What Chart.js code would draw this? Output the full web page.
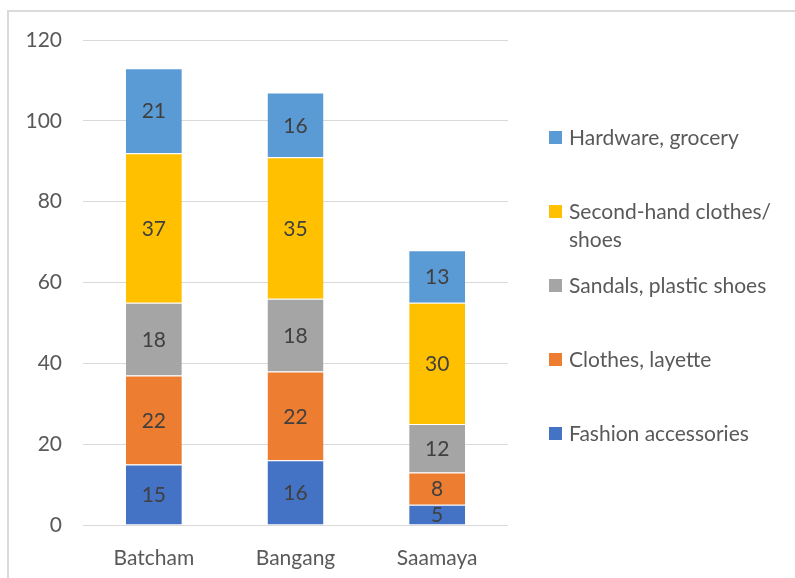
<!DOCTYPE html>
<html>
<head>
<meta charset="utf-8">
<script src="https://cdn.jsdelivr.net/npm/chart.js@4"></script>
<style>
    body { margin: 0; background: #fff; font-family: Lato, "Open Sans", sans-serif; }
    #wrap { position: relative; width: 795px; height: 578px; overflow: hidden; }
    #frame { position: absolute; left: 7px; top: 10px; width: 900px; height: 700px; border: 2px solid #DADADA; box-sizing: border-box; }
    #chart { position: absolute; left: 0; top: 0; }
    #legend { position: absolute; left: 549px; top: 123px; width: 245px; }
    .legend-item { height: 74px; display: flex; align-items: flex-start; }
    .legend-box { width: 13px; height: 13px; margin-top: 8px; margin-right: 7px; flex: none; }
    .legend-text { font-size: 21px; line-height: 28px; color: #595959; white-space: pre; }
</style>
</head>
<body>
<div id="wrap">
    <div id="frame"></div>
    <canvas id="chart" width="795" height="578"></canvas>
    <div id="legend"></div>
</div>
<script>
const categories = ['Batcham', 'Bangang', 'Saamaya'];
const seriesNames = ['Fashion accessories', 'Clothes, layette', 'Sandals, plastic shoes', 'Second-hand clothes/ shoes', 'Hardware, grocery'];
const fashion = [15, 16, 5];
const clothes = [22, 22, 8];
const sandals = [18, 18, 12];
const secondHand = [37, 35, 30];
const hardware = [21, 16, 13];
const yTicks = [0, 20, 40, 60, 80, 100, 120];
const colors = ['#4472C4', '#ED7D31', '#A5A5A5', '#FFC000', '#5B9BD5'];

const seriesValues = [fashion, clothes, sandals, secondHand, hardware];

// draws the value in the middle of every segment
const segmentLabels = {
    id: 'segmentLabels',
    afterDatasetsDraw(chart) {
        const ctx = chart.ctx;
        ctx.save();
        ctx.font = '21px Lato, "Open Sans", sans-serif';
        ctx.fillStyle = '#404040';
        ctx.textAlign = 'center';
        ctx.textBaseline = 'middle';
        chart.data.datasets.forEach((ds, i) => {
            chart.getDatasetMeta(i).data.forEach((bar, j) => {
                const p = bar.getCenterPoint();
                ctx.fillText(ds.data[j], p.x, p.y + 1);
            });
        });
        ctx.restore();
    }
};

const chart = new Chart(document.getElementById('chart'), {
    type: 'bar',
    data: {
        labels: categories,
        datasets: seriesValues.map((vals, i) => ({
            label: seriesNames[i],
            data: vals,
            backgroundColor: colors[i],
            borderColor: '#ffffff',
            borderWidth: { top: 1, bottom: 0, left: 0, right: 0 },
            borderSkipped: false,
            categoryPercentage: 1,
            barPercentage: 0.395
        }))
    },
    options: {
        responsive: false,
        animation: false,
        layout: { padding: { left: 0, right: 287, top: 40, bottom: 0 } },
        plugins: {
            legend: { display: false },
            tooltip: { enabled: false }
        },
        scales: {
            x: {
                stacked: true,
                grid: { display: false },
                border: { display: false },
                ticks: { color: '#595959', font: { family: 'Lato', size: 21 }, padding: 13 },
                afterFit: s => { s.height = 53; }
            },
            y: {
                stacked: true,
                min: 0,
                max: 120,
                afterBuildTicks: s => { s.ticks = yTicks.map(v => ({ value: v })); },
                grid: { color: '#D9D9D9', lineWidth: 1, drawTicks: false },
                border: { display: false },
                ticks: { color: '#595959', font: { family: 'Lato', size: 21 }, padding: 21 },
                afterFit: s => { s.width = 83; }
            }
        }
    },
    plugins: [segmentLabels]
});

// legend on the right, top entry is the last series
const legend = document.getElementById('legend');
chart.data.datasets.slice().reverse().forEach(ds => {
    const item = document.createElement('div');
    item.className = 'legend-item';
    const box = document.createElement('div');
    box.className = 'legend-box';
    box.style.background = ds.backgroundColor;
    const text = document.createElement('div');
    text.className = 'legend-text';
    text.textContent = ds.label.replace('/ ', '/\n');
    item.appendChild(box);
    item.appendChild(text);
    legend.appendChild(item);
});
</script>
</body>
</html>
